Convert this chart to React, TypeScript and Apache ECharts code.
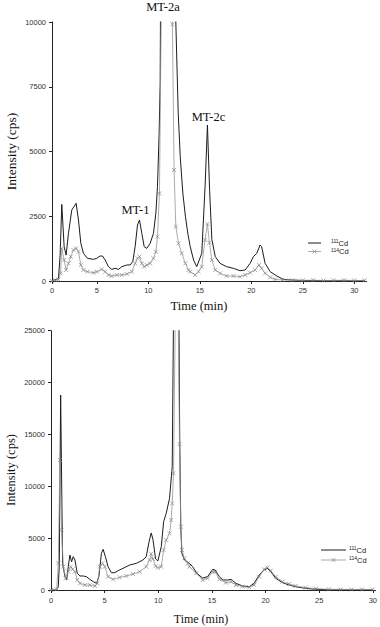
import React, { useEffect, useRef } from 'react';
import * as echarts from 'echarts';

// ---------- Top chromatogram ----------
const topTime111 = [0.65, 1.28, 1.44, 1.6, 1.83, 2.02, 2.25, 2.57, 2.99, 3.22, 3.45, 3.7, 4.09, 4.67, 5.0, 5.32, 5.55, 5.81, 6.13, 6.45, 6.78, 7.1, 7.43, 7.91, 8.24, 8.49, 8.72, 8.95, 9.14, 9.37, 9.6, 9.85, 10.18, 10.5, 10.73, 10.89, 11.05, 11.15, 11.21, 11.5, 12.0, 12.4, 12.67, 12.9, 13.1, 13.35, 13.6, 13.85, 14.07, 14.4, 14.7, 15.19, 15.51, 15.74, 15.95, 16.17, 16.5, 16.97, 17.6, 18.27, 18.9, 19.4, 19.88, 20.2, 20.53, 20.85, 21.0, 21.34, 21.83, 22.48, 23.1, 23.8, 25, 27, 29, 31];
const topCd111 = [0, 100, 1000, 2960, 1325, 1000, 1840, 2740, 3000, 2355, 1454, 1068, 875, 836, 875, 965, 965, 810, 553, 450, 489, 450, 553, 618, 618, 746, 1325, 2162, 2355, 1840, 1325, 1260, 1454, 1840, 2612, 3640, 5700, 7630, 13000, 26000, 32000, 22000, 10000, 6500, 4800, 3400, 2500, 1800, 1325, 800, 553, 1068, 3640, 6020, 3500, 1600, 940, 680, 553, 489, 398, 425, 680, 940, 1068, 1390, 1325, 680, 360, 193, 64, 40, 20, 15, 10, 10];

const topTime114 = [0.65, 1.0, 1.28, 1.48, 1.6, 1.83, 2.02, 2.25, 2.47, 2.73, 2.99, 3.22, 3.45, 3.7, 4.09, 4.67, 5.0, 5.48, 5.81, 6.13, 6.45, 6.94, 7.43, 7.91, 8.4, 8.72, 8.95, 9.14, 9.37, 9.6, 9.85, 10.18, 10.5, 10.73, 10.89, 11.08, 11.3, 11.7, 12.0, 12.34, 12.5, 12.67, 12.93, 13.25, 13.6, 13.9, 14.07, 14.55, 14.87, 15.19, 15.5, 15.74, 15.93, 16.17, 16.5, 16.97, 17.6, 18.27, 18.9, 19.4, 19.88, 20.37, 20.75, 21.0, 21.34, 21.83, 22.3, 23.0, 24, 25, 26, 27, 28, 29, 30, 31];
const topCd114 = [0, 30, 60, 296, 1260, 810, 425, 680, 940, 1197, 1260, 1130, 618, 425, 360, 320, 360, 450, 360, 232, 193, 232, 232, 270, 360, 680, 875, 940, 680, 553, 618, 680, 875, 1130, 1710, 3385, 12000, 18000, 15000, 9910, 4285, 2100, 1454, 1068, 680, 425, 360, 232, 360, 553, 1580, 2200, 1480, 810, 425, 296, 193, 193, 167, 232, 320, 425, 618, 490, 296, 140, 64, 40, 30, 25, 30, 20, 25, 30, 20, 25];

// ---------- Bottom chromatogram ----------
const botTime111 = [0, 0.53, 0.68, 0.77, 0.9, 1.08, 1.3, 1.46, 1.61, 1.76, 1.92, 2.07, 2.23, 2.45, 2.7, 3.0, 3.3, 3.62, 3.93, 4.24, 4.46, 4.7, 4.86, 5.07, 5.32, 5.63, 5.94, 6.25, 6.72, 7.33, 7.95, 8.57, 8.88, 9.13, 9.34, 9.5, 9.75, 9.96, 10.28, 10.5, 10.74, 11.05, 11.3, 11.45, 11.7, 11.9, 12.0, 12.1, 12.2, 12.44, 12.9, 13.2, 13.6, 14.14, 14.6, 15.07, 15.3, 15.7, 16.0, 16.47, 16.78, 17.24, 17.86, 18.48, 18.94, 19.4, 19.87, 20.18, 20.49, 20.95, 21.57, 22.2, 22.8, 23.74, 24.7, 26, 28, 30];
const botCd111 = [0, 0, 320, 2250, 18800, 2570, 1285, 964, 2250, 3374, 2730, 3213, 2890, 1606, 1350, 1350, 1285, 1028, 803, 643, 1285, 3534, 3920, 3213, 2250, 1670, 1670, 1863, 2090, 2410, 2570, 2890, 3213, 4600, 5500, 4900, 3000, 2800, 4177, 6590, 7390, 8840, 11890, 30000, 40000, 30000, 14500, 6000, 3534, 2890, 2570, 2250, 1600, 1150, 1285, 2000, 1930, 1285, 964, 964, 1028, 643, 385, 320, 643, 1446, 1930, 2090, 1767, 1124, 707, 482, 320, 160, 64, 30, 20, 20];

const botTime114 = [0, 0.53, 0.68, 0.83, 0.99, 1.15, 1.37, 1.61, 1.83, 2.02, 2.23, 2.45, 2.7, 3.16, 3.62, 4.09, 4.33, 4.55, 4.8, 5.01, 5.32, 5.78, 6.4, 7.03, 7.64, 8.26, 8.88, 9.19, 9.34, 9.5, 9.75, 9.96, 10.28, 10.5, 10.74, 11.05, 11.2, 11.3, 11.42, 11.6, 11.85, 11.98, 12.1, 12.2, 12.44, 12.75, 12.9, 13.53, 14.14, 14.6, 15.07, 15.3, 15.7, 16.3, 16.78, 17.24, 17.86, 18.48, 18.94, 19.4, 19.87, 20.18, 20.49, 20.95, 21.57, 22.2, 22.8, 23.74, 24.7, 25.9, 27, 28, 29, 30];
const botCd114 = [0, 64, 2570, 12530, 5780, 2250, 1124, 1767, 2250, 2000, 1767, 964, 643, 482, 482, 385, 643, 2250, 2570, 2250, 1285, 1028, 1220, 1350, 1540, 1767, 2250, 2900, 3500, 3000, 2300, 2150, 2250, 3855, 4820, 5460, 6750, 8350, 11250, 28000, 27000, 14070, 6100, 3855, 3052, 2570, 2250, 1606, 964, 1124, 1767, 1767, 1028, 707, 800, 482, 320, 257, 482, 1285, 2000, 2185, 1863, 1285, 800, 578, 385, 225, 128, 64, 60, 50, 55, 50];

// ---------- Axes / labels ----------
const topXTickValues = [0.65, 5, 10, 15, 20, 25, 30];
const topXTickLabels = ['0', '5', '10', '15', '20', '25', '30'];
const botXTickValues = [0, 5, 10, 15, 20, 25, 30];
const botXTickLabels = ['0', '5', '10', '15', '20', '25', '30'];
const seriesNames = ['111Cd', '114Cd'];
const isotopes = ['111', '114'];
const peakLabels = ['MT-2a', 'MT-1', 'MT-2c'];

const pairs = (t: number[], v: number[]) => t.map((x, i) => [x, v[i]]);

const SANS = 'Liberation Sans, Arial, sans-serif';
const SERIF = 'Liberation Serif, Times New Roman, serif';
const AXIS_COLOR = '#222';
const DARK = '#1c1c1c';
const GRAY = '#959595';
const MARK = '#858585';
const XSYM = 'path://M0,0L10,10M10,0L0,10';

const legendRich = {
  sup: { fontSize: 5, fontFamily: SANS, fill: '#222', verticalAlign: 'top', lineHeight: 6, padding: [0, 0, 3, 0] },
  b: { fontSize: 7.5, fontFamily: SANS, fill: '#222', lineHeight: 9 },
};

function xAxisCfg(grid: number, min: number, max: number, vals: number[], labels: string[], margin: number) {
  return {
    type: 'value',
    gridIndex: grid,
    min,
    max,
    axisLine: { show: true, onZero: false, lineStyle: { color: AXIS_COLOR, width: 1 } },
    axisTick: { show: true, inside: false, length: 3, customValues: vals, lineStyle: { color: AXIS_COLOR } },
    axisLabel: {
      customValues: vals,
      margin,
      fontSize: 7.5,
      fontFamily: SANS,
      color: '#333',
      formatter: (v: number) => {
        const i = vals.findIndex((x) => Math.abs(x - v) < 1e-6);
        return i >= 0 ? labels[i] : '';
      },
    },
    splitLine: { show: false },
  };
}

function yAxisCfg(grid: number, max: number, interval: number) {
  return {
    type: 'value',
    gridIndex: grid,
    min: 0,
    max,
    interval,
    axisLine: { show: true, lineStyle: { color: AXIS_COLOR, width: 1 } },
    axisTick: { show: true, inside: false, length: 3, lineStyle: { color: AXIS_COLOR } },
    axisLabel: { margin: 6, fontSize: 7.5, fontFamily: SANS, color: '#333', formatter: (v: number) => String(v) },
    splitLine: { show: false },
  };
}

function darkSeries(x: number, y: number, data: number[][]) {
  return {
    name: seriesNames[0],
    type: 'line',
    xAxisIndex: x,
    yAxisIndex: y,
    data,
    showSymbol: false,
    symbol: 'none',
    clip: true,
    lineStyle: { color: DARK, width: 1 },
    itemStyle: { color: DARK },
    z: 2,
  };
}

function graySeries(x: number, y: number, data: number[][]) {
  return {
    name: seriesNames[1],
    type: 'line',
    xAxisIndex: x,
    yAxisIndex: y,
    data,
    showSymbol: true,
    symbol: XSYM,
    symbolSize: 4,
    clip: true,
    lineStyle: { color: GRAY, width: 0.8 },
    itemStyle: { color: MARK, borderColor: MARK, borderWidth: 0.7 },
    z: 3,
  };
}

// legend drawn as graphic: line sample + isotope label
function legendGraphic(x1: number, x2: number, y1: number, y2: number, textX: number) {
  const mid = (x1 + x2) / 2;
  return {
    type: 'group',
    children: [
      { type: 'line', shape: { x1, y1, x2, y2: y1 }, style: { stroke: DARK, lineWidth: 1 } },
      { type: 'line', shape: { x1, y1: y2, x2, y2 }, style: { stroke: GRAY, lineWidth: 0.8 } },
      { type: 'line', shape: { x1: mid - 2, y1: y2 - 2, x2: mid + 2, y2: y2 + 2 }, style: { stroke: MARK, lineWidth: 0.7 } },
      { type: 'line', shape: { x1: mid - 2, y1: y2 + 2, x2: mid + 2, y2: y2 - 2 }, style: { stroke: MARK, lineWidth: 0.7 } },
      { type: 'text', x: textX, y: y1, style: { text: `{sup|${isotopes[0]}}{b|Cd}`, rich: legendRich, verticalAlign: 'middle', align: 'left' } },
      { type: 'text', x: textX, y: y2, style: { text: `{sup|${isotopes[1]}}{b|Cd}`, rich: legendRich, verticalAlign: 'middle', align: 'left' } },
    ],
  };
}

export default function App() {
  const ref = useRef<HTMLDivElement>(null);
  useEffect(() => {
    if (!ref.current) return;
    const chart = echarts.init(ref.current, null, { renderer: 'svg' });
    const option = {
      animation: false,
      backgroundColor: '#ffffff',
      grid: [
        { left: 52, top: 22, width: 314.7, height: 259 },
        { left: 51, top: 330.7, width: 326, height: 259.3 },
      ],
      xAxis: [
        xAxisCfg(0, 0.65, 31.2, topXTickValues, topXTickLabels, 5),
        xAxisCfg(1, 0, 30.25, botXTickValues, botXTickLabels, 6),
      ],
      yAxis: [yAxisCfg(0, 10000, 2500), yAxisCfg(1, 25000, 5000)],
      graphic: [
        { type: 'text', x: 11, y: 151.5, rotation: Math.PI / 2, style: { text: 'Intensity (cps)', fontSize: 13.5, fontFamily: SERIF, fill: '#111', align: 'center', verticalAlign: 'middle' } },
        { type: 'text', x: 199, y: 305.5, style: { text: 'Time (min)', fontSize: 12.5, fontFamily: SERIF, fill: '#111', align: 'center', verticalAlign: 'middle' } },
        { type: 'text', x: 11, y: 470, rotation: Math.PI / 2, style: { text: 'Intensity (cps)', fontSize: 12.5, fontFamily: SERIF, fill: '#111', align: 'center', verticalAlign: 'middle' } },
        { type: 'text', x: 201, y: 619, style: { text: 'Time (min)', fontSize: 12, fontFamily: SERIF, fill: '#111', align: 'center', verticalAlign: 'middle' } },
        { type: 'text', x: 163, y: 7, style: { text: peakLabels[0], fontSize: 12.5, fontFamily: SERIF, fill: '#111', align: 'center', verticalAlign: 'middle' } },
        { type: 'text', x: 135.5, y: 210, style: { text: peakLabels[1], fontSize: 12.5, fontFamily: SERIF, fill: '#111', align: 'center', verticalAlign: 'middle' } },
        { type: 'text', x: 208.5, y: 116.5, style: { text: peakLabels[2], fontSize: 12.5, fontFamily: SERIF, fill: '#111', align: 'center', verticalAlign: 'middle' } },
        legendGraphic(308, 321, 243, 251.5, 331),
        legendGraphic(321, 346, 550, 560, 349),
      ],
      series: [
        darkSeries(0, 0, pairs(topTime111, topCd111)),
        graySeries(0, 0, pairs(topTime114, topCd114)),
        darkSeries(1, 1, pairs(botTime111, botCd111)),
        graySeries(1, 1, pairs(botTime114, botCd114)),
      ],
    };
    chart.setOption(option as any);
    return () => chart.dispose();
  }, []);
  return (
    <div
      ref={ref}
      style={{ position: 'fixed', left: 0, top: 0, width: 380, height: 627, background: '#fff' }}
    />
  );
}
